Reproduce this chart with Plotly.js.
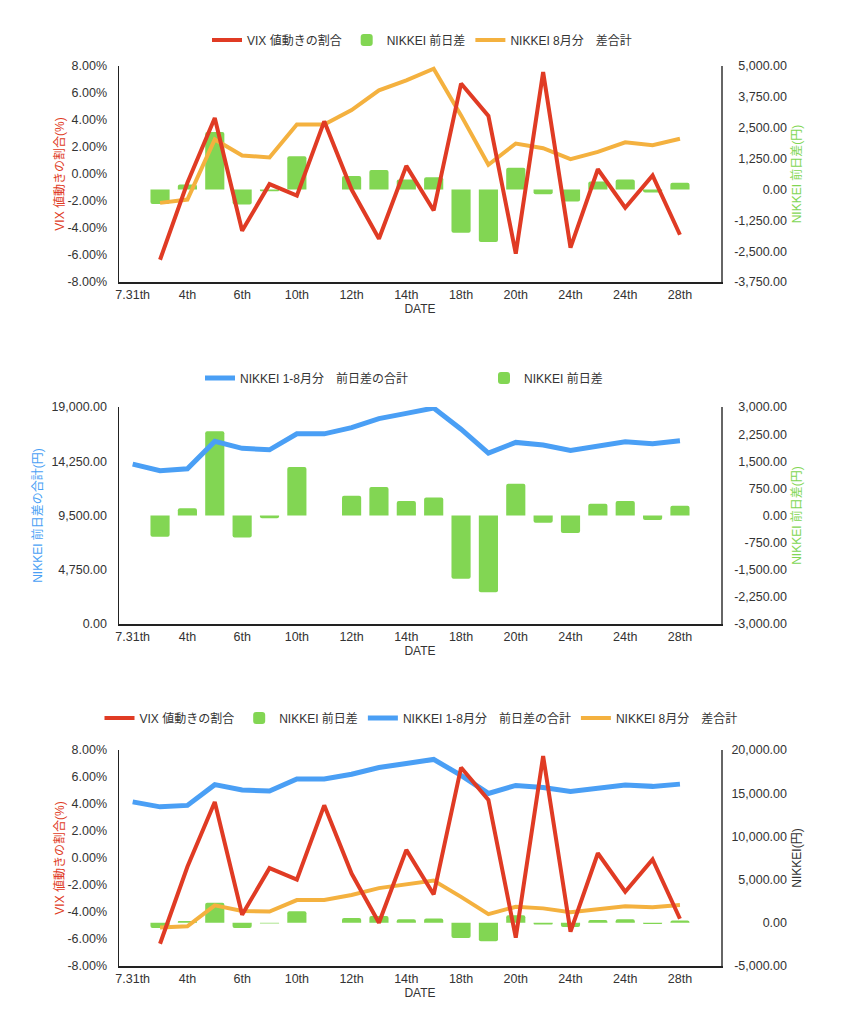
<!DOCTYPE html>
<html>
<head>
<meta charset="utf-8">
<script src="https://cdn.plot.ly/plotly-3.0.1.min.js"></script>
<style>
  html, body { margin: 0; padding: 0; background: #fff; }
  #chart { width: 845px; height: 1024px; }
</style>
</head>
<body>
<div id="chart"></div>
<script>
// x軸ラベル (1つおきに表示)
var tickLabels = ["7.31th", "4th", "6th", "10th", "12th", "14th", "18th", "20th", "24th", "24th", "28th"];

// VIX 値動きの割合 (%)
var vixRate = [null, -6.35, -0.65, 4.15, -4.2, -0.75, -1.6, 3.9, -1.15, -4.8, 0.6, -2.7, 6.7, 4.3, -5.9, 7.55, -5.45, 0.35, -2.5, -0.1, -4.5];

// NIKKEI 前日差 (円)
var nikkeiDiff = [null, -590, 200, 2330, -610, -75, 1340, null, 545, 785, 403, 495, -1750, -2125, 878, -200, -487, 325, 403, -126, 270];

// NIKKEI 8月分 差合計 (円)
var nikkeiAugSum = [null, -545, -410, 2025, 1376, 1295, 2634, 2634, 3214, 4012, 4418, 4890, 3000, 1000, 1860, 1670, 1230, 1520, 1910, 1790, 2050];

// NIKKEI 1-8月分 前日差の合計 (円)
var nikkeiYearSum = [14000, 13420, 13590, 15990, 15380, 15250, 16650, 16650, 17190, 17980, 18440, 18910, 17060, 14970, 15900, 15670, 15200, 15550, 15950, 15790, 16050];

var RED = "#e03b24", GREEN = "#82d653", ORANGE = "#f4b13f", BLUE = "#4a9ff5";
var FONT = "Liberation Sans, Noto Sans CJK JP, sans-serif";
var TEXT = "#333";

var W = 845, H = 1024, ML = 119, MR = 20;
var plotW = W - ML - MR;
function px(x) { return (x - ML) / plotW; } // ピクセル → paper座標
function py(y) { return 1 - y / H; }
var xEnd = px(721);

var days = nikkeiYearSum.map(function (v, i) { return i; });
var tickIdx = tickLabels.map(function (t, i) { return i * 2; });

function makeTicks(min, max, step, suffix) {
  var vals = [], text = [];
  for (var v = min; v <= max + 1e-9; v += step) {
    vals.push(v);
    text.push(v.toLocaleString("en-US", { minimumFractionDigits: 2, maximumFractionDigits: 2 }) + (suffix || ""));
  }
  return { tickvals: vals, ticktext: text };
}

function xAxis(anchor) {
  return {
    domain: [0, xEnd], anchor: anchor, range: [-0.5, 21.5],
    tickvals: tickIdx, ticktext: tickLabels, ticks: "",
    showline: true, linecolor: "#222", linewidth: 1.5,
    showgrid: false, zeroline: false, fixedrange: true,
    tickfont: { size: 12.5, color: TEXT },
    title: { text: "DATE", font: { size: 12, color: TEXT }, standoff: 4 }
  };
}

// 右側の軸 (線のみ)
function rightAxis(anchor, top, bot, min, max, step) {
  var t = makeTicks(min, max, step);
  return {
    domain: [py(bot), py(top)], anchor: anchor, side: "right", range: [min, max],
    tickvals: t.tickvals, ticktext: t.ticktext, showticklabels: false, ticks: "",
    showline: true, linecolor: "#666", linewidth: 1.5,
    showgrid: false, zeroline: false, fixedrange: true
  };
}

// 右側のラベル用 (右寄せにするため inside を使う。端のラベルが消えないよう少し広げる)
function rightLabels(top, bot, min, max, step, title, color) {
  var t = makeTicks(min, max, step);
  var pad = 14, upp = (max - min) / (bot - top);
  return {
    domain: [py(bot + pad), py(top - pad)],
    anchor: "free", position: px(790), side: "right",
    range: [min - pad * upp, max + pad * upp], tickvals: t.tickvals, ticktext: t.ticktext,
    ticklabelposition: "inside", ticks: "",
    showline: false, showgrid: false, zeroline: false, fixedrange: true,
    tickfont: { size: 12.5, color: TEXT },
    title: { text: title, font: { size: 12, color: color }, standoff: 6 }
  };
}

function leftAxis(over, anchor, min, max, step, suffix, title, color, standoff) {
  var t = makeTicks(min, max, step, suffix);
  return {
    overlaying: over, anchor: anchor, side: "left", range: [min, max],
    tickvals: t.tickvals, ticktext: t.ticktext, ticks: "",
    ticklabelstandoff: 8,
    showline: true, linecolor: "#222", linewidth: 1.5,
    showgrid: false, zeroline: false, fixedrange: true,
    tickfont: { size: 12.5, color: TEXT },
    title: { text: title, font: { size: 12, color: color }, standoff: standoff }
  };
}

function legendAt(cx, cy) {
  return {
    orientation: "h", x: px(cx), y: py(cy), xanchor: "center", yanchor: "middle",
    font: { size: 12, color: TEXT }, bgcolor: "rgba(0,0,0,0)", itemwidth: 30
  };
}

function bars(xa, ya, lg, rank) {
  return {
    type: "bar", x: days, y: nikkeiDiff, xaxis: xa, yaxis: ya, name: "NIKKEI 前日差",
    marker: { color: GREEN, cornerradius: 2 }, legend: lg, legendrank: rank, hoverinfo: "skip"
  };
}

function line(vals, name, color, width, xa, ya, lg, rank) {
  return {
    type: "scatter", mode: "lines", x: days, y: vals, xaxis: xa, yaxis: ya, name: name,
    line: { color: color, width: width }, legend: lg, legendrank: rank, hoverinfo: "skip"
  };
}

function dummy(xa, ya) {
  return { type: "scatter", mode: "lines", x: [null], y: [null], xaxis: xa, yaxis: ya, showlegend: false, hoverinfo: "skip" };
}

var data = [
  // グラフ1
  bars("x", "y", "legend", 2),
  line(nikkeiAugSum, "NIKKEI 8月分　差合計", ORANGE, 4, "x", "y", "legend", 3),
  line(vixRate, "VIX 値動きの割合", RED, 4, "x", "y2", "legend", 1),
  dummy("x", "y7"),
  // グラフ2
  bars("x2", "y3", "legend2", 2),
  line(nikkeiYearSum, "NIKKEI 1-8月分　前日差の合計", BLUE, 5, "x2", "y4", "legend2", 1),
  dummy("x2", "y8"),
  // グラフ3
  bars("x3", "y5", "legend3", 2),
  line(nikkeiYearSum, "NIKKEI 1-8月分　前日差の合計", BLUE, 5, "x3", "y5", "legend3", 3),
  line(nikkeiAugSum, "NIKKEI 8月分　差合計", ORANGE, 4, "x3", "y5", "legend3", 4),
  line(vixRate, "VIX 値動きの割合", RED, 4, "x3", "y6", "legend3", 1),
  dummy("x3", "y9")
];

var legend2 = legendAt(200, 378);
legend2.x = px(200);
legend2.xanchor = "left";
legend2.entrywidth = 239;

var layout = {
  width: W, height: H,
  margin: { l: ML, r: MR, t: 0, b: 0 },
  paper_bgcolor: "#fff", plot_bgcolor: "rgba(0,0,0,0)",
  font: { family: FONT, size: 12, color: TEXT },
  bargap: 0.3,
  xaxis: xAxis("y"),
  xaxis2: xAxis("y3"),
  xaxis3: xAxis("y5"),
  yaxis: rightAxis("x", 66, 282, -3750, 5000, 1250),
  yaxis2: leftAxis("y", "x", -8, 8, 2, "%", "VIX 値動きの割合(%)", RED, 0),
  yaxis7: rightLabels(66, 282, -3750, 5000, 1250, "NIKKEI 前日差(円)", GREEN),
  yaxis3: rightAxis("x2", 407, 624, -3000, 3000, 750),
  yaxis4: leftAxis("y3", "x2", 0, 19000, 4750, "", "NIKKEI 前日差の合計(円)", BLUE, 6),
  yaxis8: rightLabels(407, 624, -3000, 3000, 750, "NIKKEI 前日差(円)", GREEN),
  yaxis5: rightAxis("x3", 750, 966, -5000, 20000, 5000),
  yaxis6: leftAxis("y5", "x3", -8, 8, 2, "%", "VIX 値動きの割合(%)", RED, 0),
  yaxis9: rightLabels(750, 966, -5000, 20000, 5000, "NIKKEI(円)", TEXT),
  legend: legendAt(422, 40),
  legend2: legend2,
  legend3: legendAt(421, 718),
  showlegend: true
};

Plotly.newPlot("chart", data, layout, { displayModeBar: false, staticPlot: true });
</script>
</body>
</html>
